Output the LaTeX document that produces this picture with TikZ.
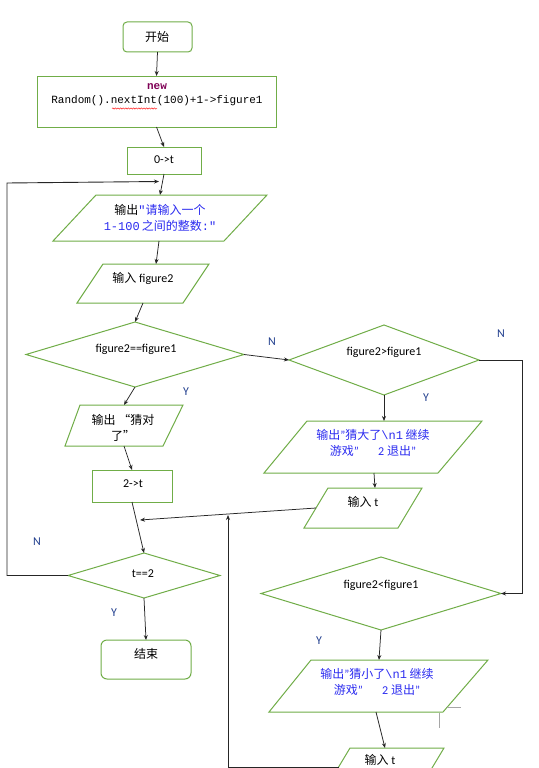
\documentclass[tikz,border=0pt]{standalone}
\usepackage{fontspec}
\setmainfont{Carlito}
\setmonofont{Liberation Mono}
\newfontfamily\cjk{Noto Sans CJK SC}
\usetikzlibrary{arrows.meta,shapes.geometric,decorations.pathmorphing}
\definecolor{fgreen}{HTML}{70AD47}
\definecolor{tblue}{HTML}{2B2BF0}
\definecolor{lblc}{HTML}{23408F}
\definecolor{kw}{HTML}{7F0055}
\begin{document}
\begin{tikzpicture}[x=1pt,y=-1pt,
  shp/.style={draw=fgreen,line width=1pt},
  boxn/.style={shp,rectangle,inner sep=0pt,outer sep=0pt,font=\fontsize{12}{16}\selectfont},
  dia/.style={shp,diamond,inner sep=0pt,outer sep=0pt},
  conn/.style={draw=black!85,line width=0.75pt,-{Stealth[length=5pt,width=4pt]}},
  txt/.style={inner sep=0pt,align=center,font=\fontsize{12}{16}\selectfont},
  lbl/.style={inner sep=0pt,text=lblc,font=\fontsize{12}{14}\selectfont}]
\fill[white] (0,0) rectangle (538,768);
\useasboundingbox (0,0) rectangle (538,768);
\clip (0,0) rectangle (538,768);

% ---------- left column ----------
\node[boxn,rounded corners=4pt,minimum width=69pt,minimum height=30pt] (start) at (157.5,37) {};
\node[txt] (startt) at (157,36.5) {\cjk 开始};

\node[boxn,minimum width=239pt,minimum height=51pt] (b1) at (156.5,101.5) {};
\node[txt,font=\fontsize{11}{14}\selectfont\ttfamily] (b1t) at (157,95)
  {{\color{kw}\bfseries new}\\Random().nextInt(100)+1->figure1};
\draw[red,line width=0.4pt,decorate,decoration={snake,amplitude=0.7pt,segment length=2.6pt}] (112,108.5) -- (157,108.5);

\node[boxn,minimum width=74pt,minimum height=27pt] (b2) at (164,160.5) {};
\node[txt] (b2t) at (164,159.5) {0->t};

% parallelogram 1
\draw[shp] (96,195) -- (267,195) -- (224,241) -- (53,241) -- cycle;
\coordinate (p1n) at (160,195);
\coordinate (p1s) at (159,241);
\node[txt] (p1t) at (160,218)
  {{\cjk 输出}{\color{tblue}{\ttfamily"}\cjk 请输入一个}\\
   {\color{tblue}{\ttfamily 1-100}\,{\cjk 之间的整数}{\ttfamily:"}}};

% parallelogram 2
\draw[shp] (103,264) -- (209,264) -- (183,303) -- (77,303) -- cycle;
\coordinate (p2n) at (156,264);
\coordinate (p2s) at (143,303);
\node[txt] (p2t) at (143,278) {{\cjk 输入} figure2};

\node[dia,minimum width=218pt,minimum height=65pt] (d1) at (135,354.5) {};
\node[txt] (d1t) at (136,349) {figure2==figure1};

% parallelogram 3
\draw[shp] (80,405) -- (183,405) -- (163,446) -- (65,446) -- cycle;
\coordinate (p3n) at (124,405);
\coordinate (p3s) at (124,446);
\node[txt] (p3t) at (123,428) {{\cjk 输出 “猜对}\\{\cjk 了”}};

\node[boxn,minimum width=80pt,minimum height=32pt] (b3) at (132,486) {};
\node[txt] (b3t) at (133,483.5) {2->t};

\node[dia,minimum width=152pt,minimum height=45pt] (d2) at (144,575.5) {};
\node[txt] (d2t) at (143,574) {t==2};

\node[boxn,rounded corners=6pt,minimum width=90pt,minimum height=39pt] (end) at (146,659.5) {};
\node[txt] (endt) at (146,654) {\cjk 结束};

% ---------- right column ----------
\node[dia,minimum width=190pt,minimum height=70pt] (d3) at (384,360) {};
\node[txt] (d3t) at (384,352) {figure2>figure1};

\draw[shp] (307,421) -- (482,421) -- (438,473) -- (264,473) -- cycle;
\coordinate (p4n) at (384,421);
\coordinate (p4s) at (374,473);
\node[txt,text=tblue] (p4t) at (373,443)
  {{\cjk 输出}"{\cjk 猜大了}{\ttfamily\textbackslash n1} {\cjk 继续}\\
   {\cjk 游戏}”\hspace{1.6em}2 {\cjk 退出}"};

\draw[shp] (328,488) -- (422,488) -- (398,528) -- (304,528) -- cycle;
\coordinate (p5n) at (375,488);
\coordinate (p5w) at (316,508);
\node[txt] (p5t) at (363,502) {{\cjk 输入} t};

\node[dia,minimum width=240pt,minimum height=73pt] (d4) at (381,593.5) {};
\node[txt] (d4t) at (381,585) {figure2<figure1};

\draw[shp] (311,660) -- (488,660) -- (443,712) -- (269,712) -- cycle;
\coordinate (p6n) at (379,660);
\coordinate (p6s) at (376,712);
\node[txt,text=tblue] (p6t) at (377,682)
  {{\cjk 输出}"{\cjk 猜小了}{\ttfamily\textbackslash n1} {\cjk 继续}\\
   {\cjk 游戏}”\hspace{1.6em}2 {\cjk 退出}"};
\draw[gray!70,line width=0.6pt] (447,707) -- (461,707) (439,713) -- (439,728);

\draw[shp] (350,748) -- (444,748) -- (420,788) -- (326,788) -- cycle;
\coordinate (p7n) at (385,748);
\coordinate (p7w) at (339,767);
\node[txt] (p7t) at (380,760) {{\cjk 输入} t};

% ---------- helper coordinates ----------
\coordinate (loopc) at (7,183);
\coordinate (loopend) at (159,181.5);
\coordinate (join) at (140,520);
\coordinate (rcorner) at (522,593.5);
\coordinate (upend) at (228,515);

% ---------- connectors ----------
\draw[conn] (start.south) -- (b1.north);
\draw[conn] (b1.south) -- (b2.north);
\draw[conn] (b2.south) -- (p1n);
\draw[conn] (p1s) -- (p2n);
\draw[conn] (p2s) -- (d1.north);
\draw[conn] (d1.east) -- (d3.west);
\draw[conn] (d1.south) -- (p3n);
\draw[conn] (p3s) -- (b3.north);
\draw[conn] (b3.south) -- (d2.north);
\draw[conn] (d2.south) -- (end.north);
\draw[conn,line width=0.9pt] (d2.west) -| (loopc) -- (loopend);
\draw[conn] (d3.south) -- (p4n);
\draw[conn] (p4s) -- (p5n);
\draw[conn] (p5w) -- (join);
\draw[conn,line width=0.9pt] (d3.east) -| (rcorner) -- (d4.east);
\draw[conn] (d4.south) -- (p6n);
\draw[conn] (p6s) -- (p7n);
\draw[conn] (p7w) -| (upend);

% ---------- labels ----------
\node[lbl] (n1) at (272,342) {N};
\node[lbl] (y1) at (186,392) {Y};
\node[lbl] (n2) at (501,334) {N};
\node[lbl] (y2) at (426,398) {Y};
\node[lbl] (n3) at (37,542) {N};
\node[lbl] (y3) at (114,613) {Y};
\node[lbl] (y4) at (319,641) {Y};
\end{tikzpicture}
\end{document}
